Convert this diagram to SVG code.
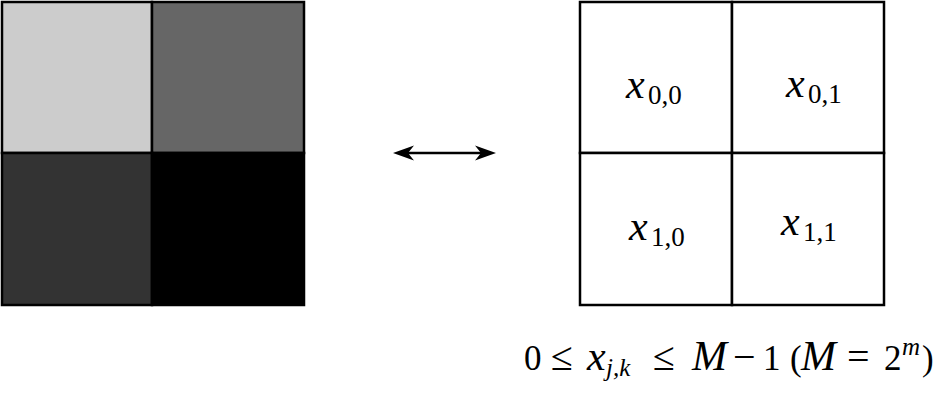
<svg xmlns="http://www.w3.org/2000/svg" width="948" height="407" viewBox="0 0 948 407">
<style>
.cell{stroke:#000;stroke-width:2.5}
text{font-family:'Liberation Serif', 'Times New Roman', serif;font-size:38px;fill:#000}
.i{font-style:italic}
.v{font-size:42px}
.s{font-size:27px}
.c{font-size:35px}
.r{font-size:40px}
.cs{font-size:25px}
</style>
<g id="image">
<rect class="cell" x="2" y="2" width="150" height="151" fill="#cccccc"/>
<rect class="cell" x="152" y="2" width="152" height="151" fill="#666666"/>
<rect class="cell" x="2" y="153" width="150" height="152" fill="#333333"/>
<rect class="cell" x="152" y="153" width="152" height="152" fill="#000000"/>
</g>
<g id="connectors">
<line x1="400" y1="153" x2="489" y2="153" stroke="#000" stroke-width="2.5"/>
<path d="M393,153 L414,145.5 L408,153 L414,160.5 Z" fill="#000"/>
<path d="M496,153 L475,145.5 L481,153 L475,160.5 Z" fill="#000"/>
</g>
<g id="matrix">
<rect class="cell" x="580" y="2" width="152" height="151" fill="#fff"/>
<rect class="cell" x="732" y="2" width="152" height="151" fill="#fff"/>
<rect class="cell" x="580" y="153" width="152" height="152" fill="#fff"/>
<rect class="cell" x="732" y="153" width="152" height="152" fill="#fff"/>
<text><tspan class="i v" x="626" y="98">x</tspan><tspan class="s" x="648" y="104">0,0</tspan></text>
<text><tspan class="i v" x="786" y="97">x</tspan><tspan class="s" x="808" y="103">0,1</tspan></text>
<text><tspan class="i v" x="629" y="240">x</tspan><tspan class="s" x="651" y="246">1,0</tspan></text>
<text><tspan class="i v" x="781" y="235">x</tspan><tspan class="s" x="803" y="241">1,1</tspan></text>
</g>
<g id="caption">
<text class="c"><tspan x="524" y="370">0</tspan><tspan class="r" x="551" y="370">≤</tspan><tspan class="i v" x="587" y="370">x</tspan><tspan class="i cs" x="606" y="376">j,k</tspan><tspan class="r" x="653" y="370">≤</tspan><tspan class="i v" x="692" y="370">M</tspan><tspan class="r" x="733" y="370">−</tspan><tspan x="763" y="370">1</tspan><tspan x="790" y="370">(</tspan><tspan class="i v" x="801" y="370">M</tspan><tspan class="r" x="847" y="370">=</tspan><tspan x="884" y="370">2</tspan><tspan class="i cs" x="902" y="355">m</tspan><tspan x="922" y="370">)</tspan></text>
</g>
</svg>
